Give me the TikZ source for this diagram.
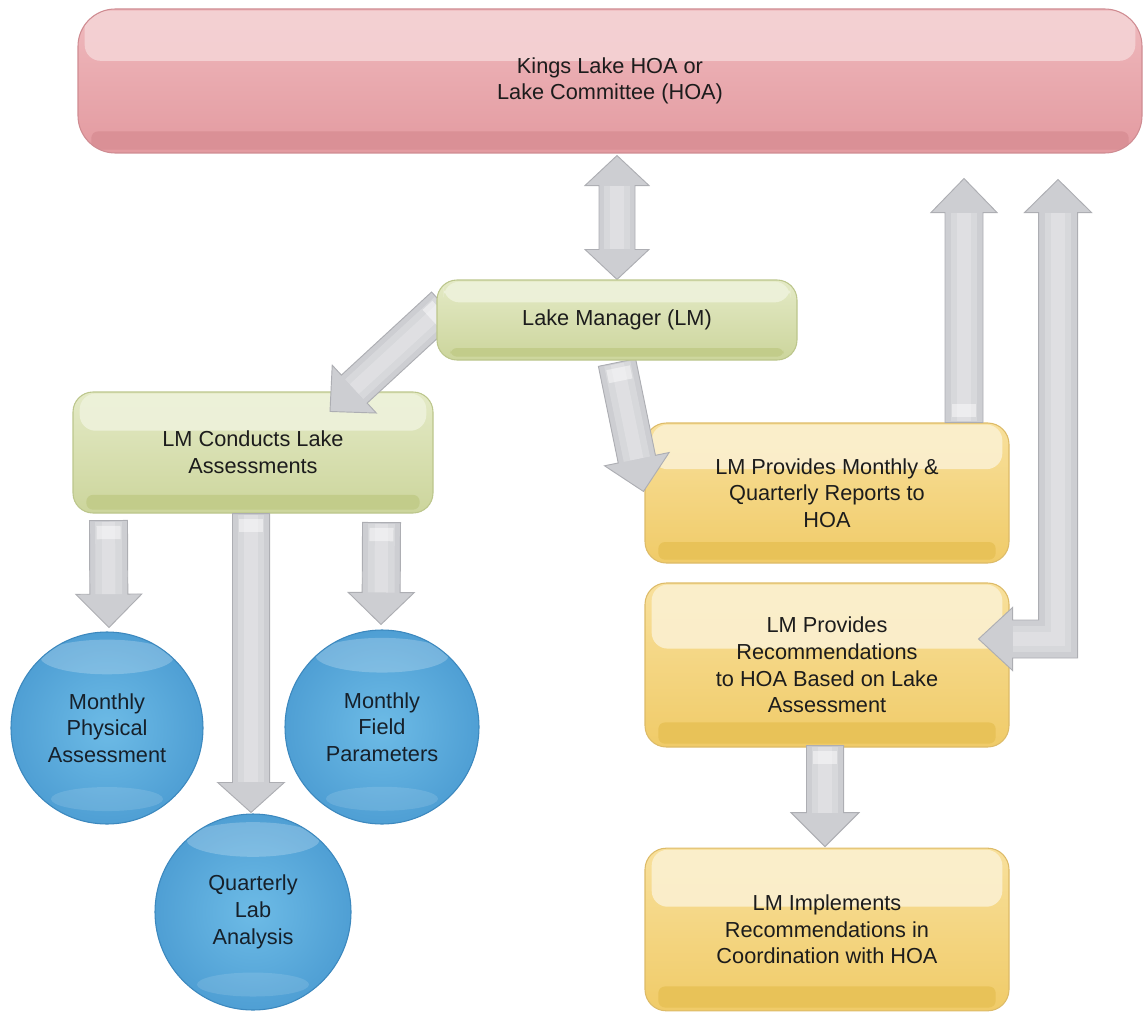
\documentclass[tikz,border=0pt]{standalone}
\usepackage{fontspec}
\setmainfont{Liberation Sans}
\usetikzlibrary{calc}
\pgfdeclarelayer{bg}
\pgfdeclarelayer{arr}
\pgfsetlayers{bg,arr,main}

\definecolor{txt}{HTML}{1C1C1C}
\definecolor{ctxt}{HTML}{16202A}
\definecolor{pinkT}{HTML}{EFB9BD}
\definecolor{pinkB}{HTML}{E39AA0}
\definecolor{pinkH}{HTML}{F4D3D5}
\definecolor{pinkD}{HTML}{DA9096}
\definecolor{pinkE}{HTML}{CF8C92}
\definecolor{grnT}{HTML}{E4EAC6}
\definecolor{grnB}{HTML}{CCD59C}
\definecolor{grnH}{HTML}{EEF2DB}
\definecolor{grnD}{HTML}{C2CC8A}
\definecolor{grnE}{HTML}{BCC68C}
\definecolor{ylwT}{HTML}{F8E09C}
\definecolor{ylwB}{HTML}{F0CB68}
\definecolor{ylwH}{HTML}{FBF0D0}
\definecolor{ylwD}{HTML}{E8C258}
\definecolor{ylwE}{HTML}{DDBB68}
\definecolor{bluM}{HTML}{6DBBE6}
\definecolor{bluD}{HTML}{4F9FD4}
\definecolor{bluE}{HTML}{3C88BE}
\definecolor{arrF}{HTML}{CDCED2}
\definecolor{arrE}{HTML}{ADAEB3}

\newcommand\boxfont{\fontsize{16.3}{20}\selectfont}

\newcommand\glossy[3]{%
  \coordinate (g-nw) at (path picture bounding box.north west);
  \coordinate (g-ne) at (path picture bounding box.north east);
  \coordinate (g-sw) at (path picture bounding box.south west);
  \coordinate (g-se) at (path picture bounding box.south east);
  \fill[#1, opacity=.9, rounded corners=12pt] ($(g-nw)+(5pt,-1.2pt)$) rectangle ($(g-ne)!#3!(g-se)+(-5pt,0pt)$);
  \fill[#2, rounded corners=5pt] ($(g-sw)!0.15!(g-nw)+(10pt,0pt)$) rectangle ($(g-se)+(-10pt,2.5pt)$);
}

\newcommand\bubblegloss{%
  \coordinate (b-c) at (path picture bounding box.center);
  \coordinate (b-n) at (path picture bounding box.north);
  \coordinate (b-s) at (path picture bounding box.south);
  \fill[white, opacity=.22] ($(b-c)!0.74!(b-n)$) ellipse [x radius=50pt, y radius=13pt];
  \fill[white, opacity=.12] ($(b-c)!0.74!(b-s)$) ellipse [x radius=42pt, y radius=9pt];
}

% single-headed fat arrow: from, to, head length, shaft half width, head half width
\newcommand\fatarrow[5]{%
  \coordinate (fa-c) at ($(#2)!#3!(#1)$);
  \filldraw[arrowbody] ($(#1)!#4!90:(#2)$) -- ($(fa-c)!#4!90:(#2)$) -- ($(fa-c)!#5!90:(#2)$) -- (#2)
     -- ($(fa-c)!#5!-90:(#2)$) -- ($(fa-c)!#4!-90:(#2)$) -- ($(#1)!#4!-90:(#2)$) -- cycle;
  \draw[shine1] ($(#1)!1pt!(#2)$) -- (fa-c);
  \draw[shine2] ($(#1)!1pt!(#2)$) -- (fa-c);
  \draw[capsty] ($(#1)!4pt!(#2)$) -- ($(#1)!14pt!(#2)$);
}
% double-headed fat arrow
\newcommand\fatdarrow[5]{%
  \coordinate (fd-a) at ($(#1)!#3!(#2)$);
  \coordinate (fd-b) at ($(#2)!#3!(#1)$);
  \filldraw[arrowbody] (#1) -- ($(fd-a)!#5!-90:(#2)$) -- ($(fd-a)!#4!-90:(#2)$) -- ($(fd-b)!#4!-90:(#2)$)
     -- ($(fd-b)!#5!-90:(#2)$) -- (#2) -- ($(fd-b)!#5!90:(#2)$) -- ($(fd-b)!#4!90:(#2)$)
     -- ($(fd-a)!#4!90:(#2)$) -- ($(fd-a)!#5!90:(#2)$) -- cycle;
  \draw[shine1] (fd-a) -- (fd-b);
  \draw[shine2] (fd-a) -- (fd-b);
}

\tikzset{
  basebox/.style={rectangle, inner sep=0pt, align=center, text=txt, font=\boxfont, line width=0.8pt},
  greenbox/.style={basebox, rounded corners=15pt, draw=grnE, top color=grnT, bottom color=grnB,
     path picture={\glossy{grnH}{grnD}{#1}}},
  greenbox/.default=0.3,
  yellowbox/.style={basebox, rounded corners=16pt, draw=ylwE, top color=ylwT, bottom color=ylwB,
     path picture={\glossy{ylwH}{ylwD}{#1}}},
  yellowbox/.default=0.35,
  pinkbox/.style={basebox, rounded corners=28pt, draw=pinkE, top color=pinkT, bottom color=pinkB,
     path picture={\glossy{pinkH}{pinkD}{#1}}},
  pinkbox/.default=0.36,
  bubble/.style={circle, inner sep=0pt, align=center, text=ctxt, font=\boxfont, draw=bluE,
     line width=0.8pt, inner color=bluM, outer color=bluD, path picture={\bubblegloss}},
  arrowbody/.style={fill=arrF, draw=arrE, line width=0.7pt, line join=miter},
  shine1/.style={white, opacity=.22, line width=20pt},
  shine2/.style={white, opacity=.2, line width=10pt},
  capsty/.style={white, opacity=.45, line width=18pt},
}

\begin{document}
\begin{tikzpicture}[x=0.75pt, y=-0.75pt]
\useasboundingbox (0,0) rectangle (1145,1013);

% Lake Manager on top layer
\node[greenbox=0.28, minimum width=270pt, minimum height=60pt] (lm) at (617,320) {Lake Manager (LM)};

\begin{pgfonlayer}{bg}
\node[pinkbox, minimum width=798pt, minimum height=108pt] (hoa) at (610,81)
  {Kings Lake HOA or\\Lake Committee (HOA)};
\node[greenbox=0.32, minimum width=270pt, minimum height=90.75pt] (conducts) at (253,452.5)
  {LM Conducts Lake\\Assessments};
\node[yellowbox=0.33, minimum width=273pt, minimum height=105pt] (box1) at (827,493)
  {LM Provides Monthly \&\\Quarterly Reports to\\HOA};
\node[yellowbox=0.4, minimum width=273pt, minimum height=123pt] (box2) at (827,665)
  {LM Provides\\Recommendations\\to HOA Based on Lake\\Assessment};
\node[yellowbox=0.36, minimum width=273pt, minimum height=122pt] (box3) at (827,929.5)
  {LM Implements\\Recommendations in\\Coordination with HOA};
\node[bubble, minimum size=144pt] (mpa) at (107,728) {Monthly\\Physical\\Assessment};
\node[bubble, minimum size=145.5pt] (mfp) at (382,727) {Monthly\\Field\\Parameters};
\node[bubble, minimum size=147pt] (qla) at (253,912) {Quarterly\\Lab\\Analysis};
\end{pgfonlayer}

\begin{pgfonlayer}{arr}
% HOA <-> LM
\coordinate (a1s) at (lm.north);
\coordinate (a1e) at ($(lm.north |- hoa.south)+(0,2)$);
\fatdarrow{a1s}{a1e}{22.5pt}{13.5pt}{24pt}
% LM -> Conducts
\coordinate (a2s) at ($(lm.west)+(8,-14)$);
\coordinate (a2e) at ($(conducts.north)+(77,20)$);
\fatarrow{a2s}{a2e}{24.75pt}{14.25pt}{24.4pt}
% LM -> Reports
\coordinate (a3s) at ($(lm.south)+(0,2)$);
\coordinate (a3e) at ($(box1.north west)+(-1,69)$);
\fatarrow{a3s}{a3e}{24.75pt}{14.25pt}{24.75pt}
% Conducts -> circles
\coordinate (a4s) at ($(conducts.south west)+(36,7)$);
\coordinate (a4e) at ($(mpa.north)+(2,-4)$);
\fatarrow{a4s}{a4e}{25pt}{14.25pt}{24.75pt}
\coordinate (a5s) at ($(conducts.south)+(-2,0)$);
\coordinate (a5e) at ($(qla.north)+(-2,-1)$);
\fatarrow{a5s}{a5e}{22.5pt}{13.9pt}{25pt}
\coordinate (a6s) at ($(conducts.south east)+(-52,9)$);
\coordinate (a6e) at ($(mfp.north)+(-1,-5)$);
\fatarrow{a6s}{a6e}{24pt}{14.25pt}{24.75pt}
% Reports -> HOA
\coordinate (a7s) at ($(box1.north)+(137,0)$);
\coordinate (a7e) at ($(box1.north |- hoa.south)+(137,25)$);
\fatarrow{a7s}{a7e}{25.5pt}{14.25pt}{24.75pt}
% Recommendations -> Implements
\coordinate (a9s) at ($(box2.south)+(-2,-2)$);
\coordinate (a9e) at ($(box3.north)+(-2,-1)$);
\fatarrow{a9s}{a9e}{25.5pt}{13.9pt}{25.5pt}
% HOA <-> Recommendations (L-shaped)
\coordinate (T1) at ($(box2.east |- hoa.south)+(48.5,26)$);
\coordinate (T2) at ($(box2.east)+(-31,-26)$);
\coordinate (Lc) at (T1 |- T2);
\filldraw[arrowbody] (T1) -- ($(T1)+(33.5,33)$) -- ($(T1)+(19.5,33)$) -- ($(Lc)+(19.5,19)$)
  -- ($(T2)+(34,19)$) -- ($(T2)+(34,31.5)$) -- (T2) -- ($(T2)+(34,-31.5)$) -- ($(T2)+(34,-19)$)
  -- ($(Lc)+(-19.5,-19)$) -- ($(T1)+(-19.5,33)$) -- ($(T1)+(-33.5,33)$) -- cycle;
\draw[shine1, line join=miter] ($(T1)+(0,33)$) -- (Lc) -- ($(T2)+(34,0)$);
\draw[shine2, line join=miter] ($(T1)+(0,33)$) -- (Lc) -- ($(T2)+(34,0)$);
\end{pgfonlayer}
\end{tikzpicture}
\end{document}
